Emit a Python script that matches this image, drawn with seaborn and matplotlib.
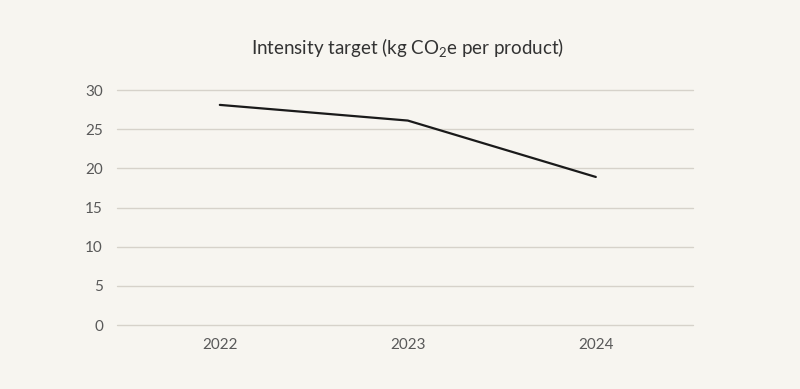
import matplotlib
matplotlib.use("Agg")
import matplotlib.pyplot as plt
import pandas as pd
import seaborn as sns

years = ["2022", "2023", "2024"]
intensity = [28.1, 26.1, 18.9]
y_ticks = [0, 5, 10, 15, 20, 25, 30]

bg = "#f7f5f0"
grid_col = "#d6d2ca"
text_col = "#595959"

sns.set_theme(style="white")
plt.rcParams["font.family"] = ["Lato", "DejaVu Sans"]
plt.rcParams["mathtext.fontset"] = "custom"
plt.rcParams["mathtext.rm"] = "Lato"
plt.rcParams["mathtext.it"] = "Lato"
plt.rcParams["mathtext.default"] = "rm"

df = pd.DataFrame({"year": years, "value": intensity})
df["pos"] = range(len(df))

fig = plt.figure(figsize=(8, 3.89), dpi=100, facecolor=bg)
ax = fig.add_axes([0.146, 0.1645, 0.72, 0.6041])
ax.set_facecolor(bg)

for t in y_ticks:
    ax.axhline(t, color=grid_col, lw=1, zorder=0, clip_on=False)

sns.lineplot(data=df, x="pos", y="value", color="#1a1a1a", lw=1.6, ax=ax)

ax.set_xlim(-0.548, 2.516)
ax.set_ylim(0, 30)
ax.set_xticks(df["pos"])
ax.set_xticklabels(years)
ax.set_yticks(y_ticks)
ax.tick_params(axis="both", length=0, labelsize=11, labelcolor=text_col)
ax.tick_params(axis="y", pad=10)
ax.tick_params(axis="x", pad=9)
ax.set_xlabel("")
ax.set_ylabel("")
for s in ax.spines.values():
    s.set_visible(False)

fig.text(0.51, 0.877, r"Intensity target (kg CO$_2$e per product)", ha="center", va="center",
         fontsize=13.5, color="#333333")

fig.savefig("out.png", facecolor=bg)
